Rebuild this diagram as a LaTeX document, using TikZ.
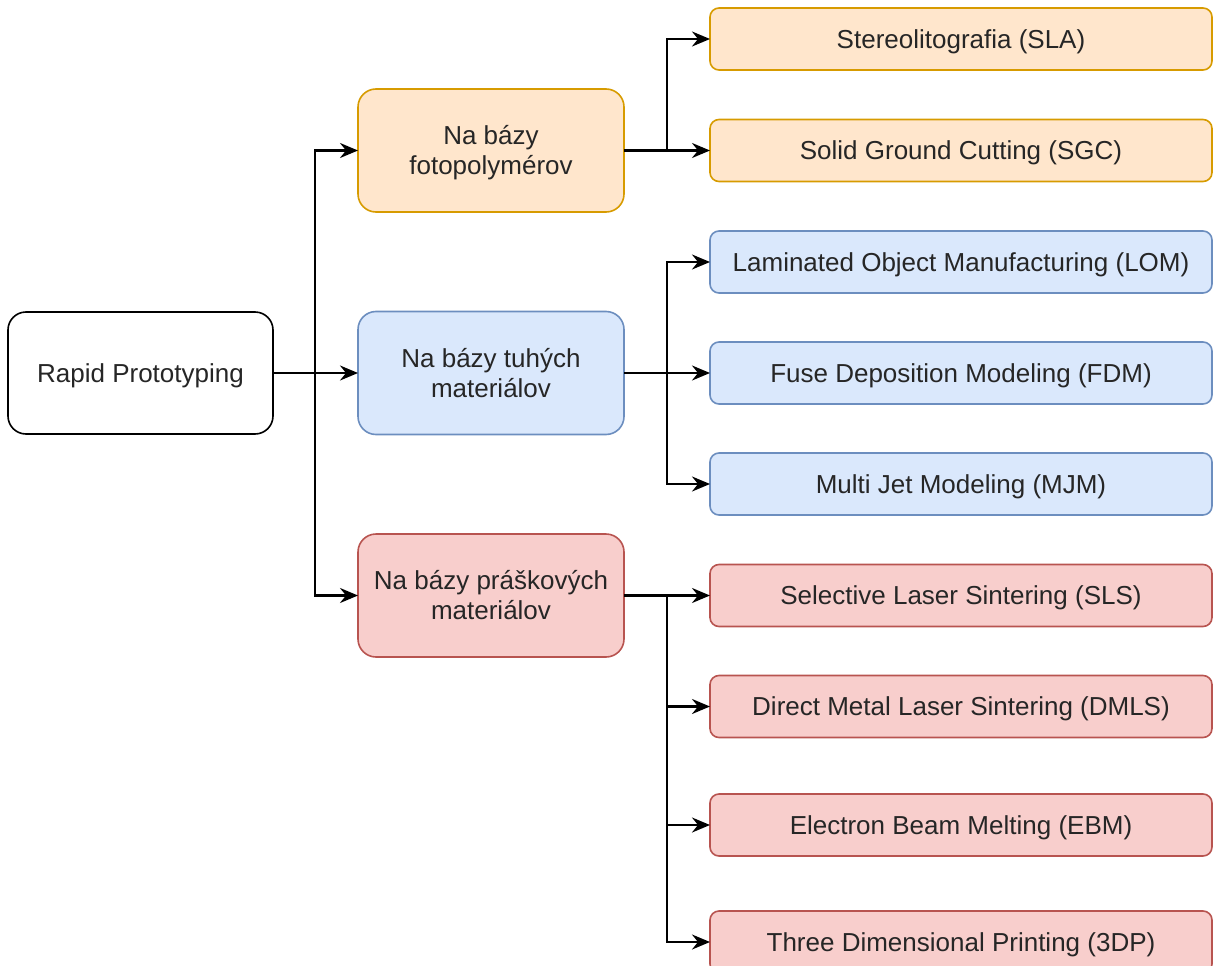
\documentclass[tikz,border=0pt]{standalone}
\usepackage{fontspec}
\setmainfont{Liberation Sans}
\usetikzlibrary{arrows.meta, positioning}

\definecolor{photofill}{HTML}{FFE6CC}
\definecolor{photoline}{HTML}{D79B00}
\definecolor{solidfill}{HTML}{DAE8FC}
\definecolor{solidline}{HTML}{6C8EBF}
\definecolor{powderfill}{HTML}{F8CECC}
\definecolor{powderline}{HTML}{B85450}

\tikzset{
  box/.style = {draw, line width=1.6pt, align=center, inner sep=0pt, outer sep=0pt,
    font=\fontsize{26}{30}\selectfont, text=black!85,
    text height=18.6pt, text depth=0pt},
  rootbox/.style = {box, draw=black, fill=white, rounded corners=18pt,
    minimum width=265pt, minimum height=122pt},
  groupbox/.style = {box, rounded corners=18pt, text height=48.6pt,
    minimum width=266pt, minimum height=123pt},
  leafbox/.style = {box, rounded corners=9pt,
    minimum width=502pt, minimum height=62pt},
  photo/.style = {draw=photoline, fill=photofill},
  solid/.style = {draw=solidline, fill=solidfill},
  powder/.style = {draw=powderline, fill=powderfill},
  wire/.style = {draw, line width=2.4pt, ->}
}

\begin{document}
\begin{tikzpicture}[x=1pt, y=-1pt, >={Stealth[length=18pt, width=15pt, inset=6pt]}]
\clip (0,0) rectangle (1213,966);

\node[rootbox] (root) at (140.5,373) {Rapid Prototyping};

% groups
\node[groupbox, solid, right = 85pt of root] (solidgrp) {Na bázy tuhých\\materiálov};
\node[groupbox, photo, above = 99.5pt of solidgrp] (photogrp) {Na bázy\\fotopolymérov};
\node[groupbox, powder, below = 99.5pt of solidgrp] (powdergrp) {Na bázy práškových\\materiálov};

% photopolymer methods
\node[leafbox, photo, right = 86pt of photogrp] (sgc) {Solid Ground Cutting (SGC)};
\node[leafbox, photo, above = 49.5pt of sgc] (sla) {Stereolitografia (SLA)};

% solid material methods
\node[leafbox, solid, right = 86pt of solidgrp] (fdm) {Fuse Deposition Modeling (FDM)};
\node[leafbox, solid, above = 49pt of fdm] (lom) {Laminated Object Manufacturing (LOM)};
\node[leafbox, solid, below = 49pt of fdm] (mjm) {Multi Jet Modeling (MJM)};

% powder methods
\node[leafbox, powder, right = 86pt of powdergrp] (sls) {Selective Laser Sintering (SLS)};
\node[leafbox, powder, below = 49pt of sls] (dmls) {Direct Metal Laser Sintering (DMLS)};
\node[leafbox, powder, below = 56.5pt of dmls] (ebm) {Electron Beam Melting (EBM)};
\node[leafbox, powder, below = 55pt of ebm] (tdp) {Three Dimensional Printing (3DP)};

% draw wires
\draw[wire] (root.east) -- ++(42,0) |- (photogrp.west);
\draw[wire] (root) -- (solidgrp);
\draw[wire] (root.east) -- ++(42,0) |- (powdergrp.west);

\foreach \leaf in {sla, sgc}
  \draw[wire] (photogrp.east) -- ++(43,0) |- (\leaf.west);
\foreach \leaf in {lom, fdm, mjm}
  \draw[wire] (solidgrp.east) -- ++(43,0) |- (\leaf.west);
\foreach \leaf in {sls, dmls, ebm, tdp}
  \draw[wire] (powdergrp.east) -- ++(43,0) |- (\leaf.west);
\end{tikzpicture}
\end{document}
